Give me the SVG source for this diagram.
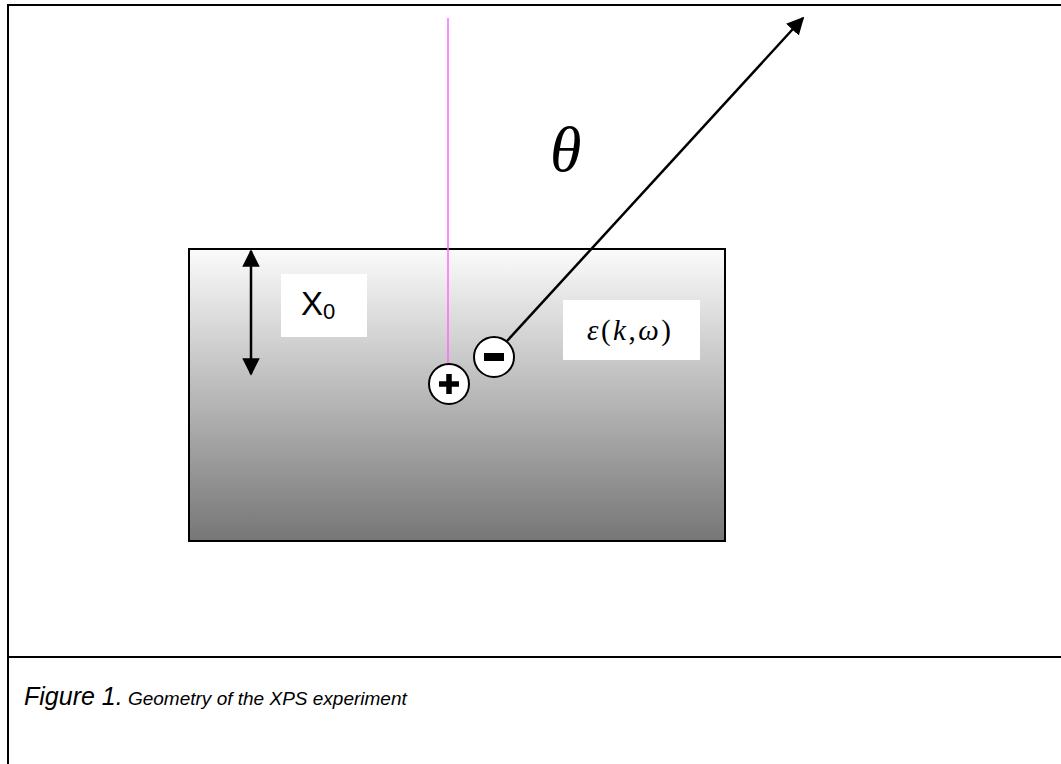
<svg xmlns="http://www.w3.org/2000/svg" width="1061" height="764" viewBox="0 0 1061 764">
<style>
.frame{stroke:#000;stroke-width:2;fill:none}
.line{stroke:#000;stroke-width:2.5;fill:none}
.circ{fill:#fff;stroke:#000;stroke-width:2}
.lbl{fill:#fff;stroke:none}
</style>
<defs>
<linearGradient id="g" x1="0" y1="0" x2="0" y2="1">
<stop offset="0" stop-color="#fbfbfb"/>
<stop offset="1" stop-color="#767676"/>
</linearGradient>
<marker id="ah" viewBox="0 0 10 10" refX="9" refY="5" markerWidth="7" markerHeight="7" orient="auto-start-reverse" markerUnits="strokeWidth">
<path d="M0,0 L10,5 L0,10 z" fill="#000"/>
</marker>
</defs>
<rect width="1061" height="764" fill="#fff"/>
<g id="frame">
<path class="frame" d="M1061,5 H8 V764"/>
<line class="frame" x1="8" y1="657" x2="1061" y2="657"/>
</g>
<g id="sample">
<rect x="189" y="249" width="536" height="292" fill="url(#g)" stroke="#000" stroke-width="2"/>
</g>
<g id="connectors">
<line x1="448" y1="18" x2="448" y2="366" stroke="#ff66ff" stroke-width="1.5"/>
<line class="line" x1="507" y1="341" x2="803" y2="18" marker-end="url(#ah)"/>
<line class="line" x1="251" y1="251" x2="251" y2="374" marker-start="url(#ah)" marker-end="url(#ah)"/>
</g>
<g id="x0">
<rect class="lbl" x="281" y="274" width="86" height="63"/>
<text x="301" y="315" font-family="Liberation Sans, Arial, sans-serif" font-size="33">X<tspan font-size="22" dy="4">0</tspan></text>
</g>
<g id="eps">
<rect class="lbl" x="563" y="300" width="137" height="60"/>
<text x="587" y="340" font-family="Liberation Serif, Times New Roman, serif" font-size="29" letter-spacing="2.5"><tspan font-style="italic">ε</tspan>(<tspan font-style="italic">k</tspan>,<tspan font-style="italic">ω</tspan>)</text>
</g>
<g id="theta">
<text x="550" y="171" font-family="Liberation Serif, Times New Roman, serif" font-size="64" font-style="italic">θ</text>
</g>
<g id="plus">
<circle class="circ" cx="449" cy="384" r="20"/>
<path d="M449,374 V394 M439,384 H459" stroke="#000" stroke-width="5.5"/>
</g>
<g id="minus">
<circle class="circ" cx="494" cy="357" r="20"/>
<path d="M484,357 H504" stroke="#000" stroke-width="8"/>
</g>
<g id="caption">
<text x="24" y="705" font-family="Liberation Sans, Arial, sans-serif" font-style="italic"><tspan font-size="25">Figure 1.</tspan><tspan font-size="19"> Geometry of the XPS experiment</tspan></text>
</g>
</svg>
